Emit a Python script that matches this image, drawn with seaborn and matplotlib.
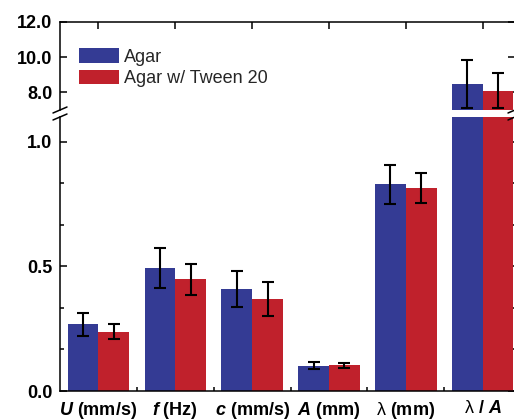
import matplotlib
matplotlib.use("Agg")
import matplotlib.pyplot as plt
import matplotlib.ticker as mticker
from matplotlib.lines import Line2D
import seaborn as sns
import pandas as pd

# values (mean and error bar half-height)
params = ["$U$ (mm/s)", "$f$ (Hz)", "$c$ (mm/s)", "$A$ (mm)",
          "$\\mathsf{\\lambda}$ (mm)", "$\\mathsf{\\lambda}$ / $A$"]
agar = [0.267, 0.495, 0.410, 0.101, 0.830, 8.47]
agar_err = [0.048, 0.080, 0.072, 0.014, 0.078, 1.36]
tween = [0.238, 0.448, 0.369, 0.103, 0.815, 8.10]
tween_err = [0.030, 0.061, 0.067, 0.010, 0.061, 1.00]
series = ["Agar", "Agar w/ Tween 20"]
colors = ["#343b94", "#c0212c"]

df = pd.DataFrame({
    "param": params * 2,
    "value": agar + tween,
    "sample": [series[0]] * len(params) + [series[1]] * len(params),
})

sns.set_style("ticks")
plt.rcParams["font.family"] = ["Liberation Sans", "DejaVu Sans"]
plt.rcParams["mathtext.fontset"] = "custom"
plt.rcParams["mathtext.it"] = "Liberation Sans:bold:italic"
plt.rcParams["mathtext.rm"] = "Liberation Sans:bold"
plt.rcParams["mathtext.sf"] = "Liberation Sans"

W, H = 514, 420
fig = plt.figure(figsize=(W / 100, H / 100), dpi=100)
ax_top = fig.add_axes([60 / W, 1 - 110 / H, 455 / W, 88 / H])
ax_bot = fig.add_axes([60 / W, 1 - 391 / H, 455 / W, 274 / H])

for ax in (ax_top, ax_bot):
    sns.barplot(data=df, x="param", y="value", hue="sample", palette=colors,
                errorbar=None, width=0.8, linewidth=0, saturation=1,
                legend=(ax is ax_top), ax=ax)
    bars = list(ax.containers[:2])
    for cont, errs in zip(bars, [agar_err, tween_err]):
        xs = [b.get_x() + b.get_width() / 2 for b in cont]
        ys = [b.get_height() for b in cont]
        ax.errorbar(xs, ys, yerr=errs, fmt="none", ecolor="black",
                    elinewidth=1.5, capsize=4.5, capthick=1.5)
    ax.set_xlim(-0.5, 5.42)
    ax.set_xlabel("")
    ax.set_ylabel("")
    ax.yaxis.set_major_formatter(mticker.FormatStrFormatter("%.1f"))
    for sp in ax.spines.values():
        sp.set_linewidth(1.1)
        sp.set_color("black")
    ax.tick_params(which="both", direction="in", left=True, right=True,
                   width=1.1, colors="black")
    ax.tick_params(which="major", length=5, pad=5.5, labelsize=13)
    ax.tick_params(which="minor", length=3)

# upper segment
ax_top.set_ylim(7, 12)
ax_top.set_yticks([8, 10, 12])
ax_top.spines["bottom"].set_visible(False)
ax_top.tick_params(axis="x", bottom=False, top=True, labelbottom=False)
for lab in ax_top.get_yticklabels():
    lab.set_fontweight("bold")
ax_top.legend(loc="upper left", bbox_to_anchor=(0.042, 0.70), frameon=False,
              fontsize=13, handlelength=2.2, handleheight=0.85,
              labelspacing=0.22, handletextpad=0.3, borderpad=0,
              borderaxespad=0)

# lower segment
ax_bot.set_ylim(0, 1.1)
ax_bot.set_yticks([0, 0.5, 1.0])
ax_bot.yaxis.set_minor_locator(mticker.AutoMinorLocator(3))
ax_bot.xaxis.set_minor_locator(mticker.FixedLocator([0.5, 1.5, 2.5, 3.5, 4.5]))
ax_bot.spines["top"].set_visible(False)
ax_bot.tick_params(axis="x", which="both", top=False, bottom=True)
ax_bot.tick_params(axis="x", which="major", pad=6.3)
for lab in ax_bot.get_yticklabels():
    lab.set_fontweight("bold")
for lab in ax_bot.get_xticklabels():
    lab.set_fontweight("bold")

# break marks on both spines
for ax, yf in ((ax_top, ax_top.get_position().y0), (ax_bot, ax_bot.get_position().y1)):
    for xf in (ax.get_position().x0, ax.get_position().x1):
        dx, dy = 7 / W, 3 / H
        fig.add_artist(Line2D([xf - dx, xf + dx], [yf - dy, yf + dy],
                              transform=fig.transFigure, color="black", lw=1.1))

fig.savefig("out.png", dpi=100)
